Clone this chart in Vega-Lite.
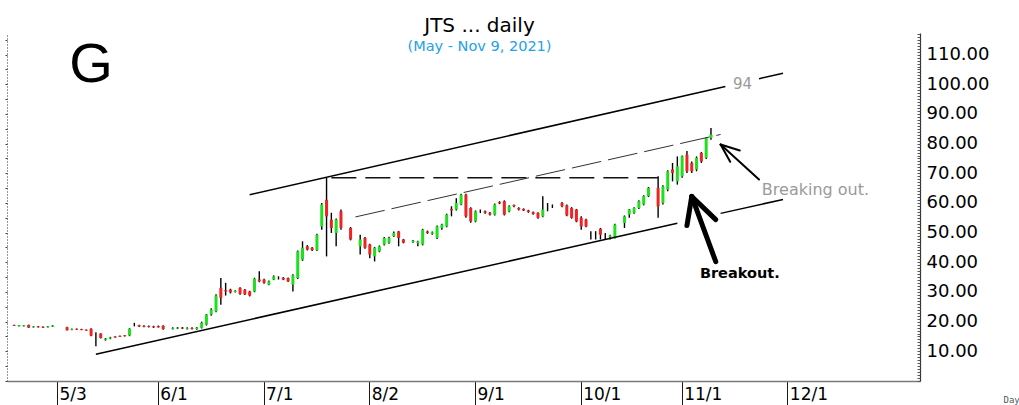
{
  "$schema": "https://vega.github.io/schema/vega-lite/v6.json",
  "width": 913,
  "height": 348,
  "autosize": "none",
  "padding": {"left": 7, "top": 33, "right": 99, "bottom": 24},
  "background": "white",
  "view": {"stroke": null},
  "title": {
    "text": "JTS ... daily",
    "subtitle": "(May - Nov 9, 2021)",
    "font": "DejaVu Sans",
    "fontSize": 20,
    "fontWeight": "normal",
    "color": "#000000",
    "subtitleFont": "DejaVu Sans",
    "subtitleFontSize": 14.5,
    "subtitleColor": "#22a2e8",
    "subtitlePadding": 4,
    "anchor": "middle",
    "dx": 16,
    "offset": -20
  },
  "datasets": {
    "candles": [
      {"date": "2021-04-20", "open": 18.9, "high": 19.0, "low": 18.5, "close": 18.6},
      {"date": "2021-04-21", "open": 18.5, "high": 18.9, "low": 18.4, "close": 18.8},
      {"date": "2021-04-22", "open": 18.5, "high": 18.9, "low": 18.4, "close": 18.8},
      {"date": "2021-04-23", "open": 18.9, "high": 19.0, "low": 17.9, "close": 18.0},
      {"date": "2021-04-26", "open": 18.1, "high": 18.5, "low": 18.0, "close": 18.4},
      {"date": "2021-04-27", "open": 18.4, "high": 18.5, "low": 18.0, "close": 18.1},
      {"date": "2021-04-28", "open": 18.3, "high": 18.4, "low": 17.9, "close": 18.0},
      {"date": "2021-04-29", "open": 18.1, "high": 18.5, "low": 18.0, "close": 18.4},
      {"date": "2021-04-30", "open": 18.3, "high": 18.8, "low": 18.2, "close": 18.7},
      {"date": "2021-05-05", "open": 18.1, "high": 18.3, "low": 17.0, "close": 17.1},
      {"date": "2021-05-06", "open": 17.2, "high": 17.7, "low": 17.1, "close": 17.5},
      {"date": "2021-05-07", "open": 17.6, "high": 17.7, "low": 17.2, "close": 17.3},
      {"date": "2021-05-10", "open": 17.5, "high": 17.6, "low": 17.1, "close": 17.2},
      {"date": "2021-05-11", "open": 17.3, "high": 17.4, "low": 16.9, "close": 17.0},
      {"date": "2021-05-12", "open": 17.6, "high": 17.8, "low": 15.1, "close": 15.3},
      {"date": "2021-05-13", "open": 15.9, "high": 16.4, "low": 11.7, "close": 15.9},
      {"date": "2021-05-14", "open": 16.0, "high": 16.1, "low": 14.3, "close": 14.5},
      {"date": "2021-05-17", "open": 13.9, "high": 14.5, "low": 13.6, "close": 14.3},
      {"date": "2021-05-18", "open": 14.3, "high": 14.9, "low": 14.1, "close": 14.7},
      {"date": "2021-05-19", "open": 15.0, "high": 15.1, "low": 14.6, "close": 14.7},
      {"date": "2021-05-20", "open": 15.2, "high": 15.3, "low": 14.8, "close": 14.9},
      {"date": "2021-05-21", "open": 15.4, "high": 15.5, "low": 15.0, "close": 15.1},
      {"date": "2021-05-24", "open": 15.3, "high": 17.8, "low": 15.1, "close": 17.6},
      {"date": "2021-05-25", "open": 18.8, "high": 19.6, "low": 18.4, "close": 18.8},
      {"date": "2021-05-26", "open": 18.8, "high": 19.0, "low": 18.2, "close": 18.4},
      {"date": "2021-05-27", "open": 18.6, "high": 18.8, "low": 18.1, "close": 18.3},
      {"date": "2021-05-28", "open": 18.5, "high": 18.7, "low": 18.0, "close": 18.2},
      {"date": "2021-05-31", "open": 18.4, "high": 18.6, "low": 17.9, "close": 18.1},
      {"date": "2021-06-01", "open": 18.5, "high": 18.7, "low": 18.0, "close": 18.1},
      {"date": "2021-06-02", "open": 18.6, "high": 18.8, "low": 17.3, "close": 17.5},
      {"date": "2021-06-04", "open": 17.6, "high": 18.1, "low": 17.4, "close": 17.9},
      {"date": "2021-06-07", "open": 17.7, "high": 18.2, "low": 17.5, "close": 18.0},
      {"date": "2021-06-08", "open": 18.0, "high": 18.2, "low": 17.5, "close": 17.7},
      {"date": "2021-06-09", "open": 17.6, "high": 18.1, "low": 17.4, "close": 17.9},
      {"date": "2021-06-10", "open": 17.9, "high": 18.1, "low": 17.4, "close": 17.6},
      {"date": "2021-06-11", "open": 17.5, "high": 18.2, "low": 17.3, "close": 18.0},
      {"date": "2021-06-14", "open": 17.9, "high": 20.0, "low": 17.7, "close": 19.6},
      {"date": "2021-06-15", "open": 19.0, "high": 22.6, "low": 18.7, "close": 22.4},
      {"date": "2021-06-16", "open": 22.4, "high": 24.5, "low": 22.0, "close": 24.1},
      {"date": "2021-06-17", "open": 23.5, "high": 29.2, "low": 23.2, "close": 28.8},
      {"date": "2021-06-18", "open": 31.4, "high": 34.7, "low": 25.7, "close": 28.0},
      {"date": "2021-06-21", "open": 30.6, "high": 33.1, "low": 28.8, "close": 30.2},
      {"date": "2021-06-22", "open": 30.8, "high": 31.1, "low": 29.5, "close": 29.9},
      {"date": "2021-06-23", "open": 30.0, "high": 30.6, "low": 29.8, "close": 30.4},
      {"date": "2021-06-24", "open": 31.4, "high": 31.6, "low": 29.1, "close": 29.4},
      {"date": "2021-06-25", "open": 30.8, "high": 31.0, "low": 29.0, "close": 29.2},
      {"date": "2021-06-28", "open": 30.2, "high": 30.4, "low": 28.5, "close": 28.8},
      {"date": "2021-06-29", "open": 30.2, "high": 34.8, "low": 29.9, "close": 34.5},
      {"date": "2021-06-30", "open": 34.2, "high": 37.0, "low": 33.3, "close": 33.6},
      {"date": "2021-07-01", "open": 34.2, "high": 34.5, "low": 32.8, "close": 33.1},
      {"date": "2021-07-02", "open": 32.5, "high": 33.9, "low": 32.3, "close": 33.6},
      {"date": "2021-07-05", "open": 34.2, "high": 35.6, "low": 34.0, "close": 35.3},
      {"date": "2021-07-06", "open": 34.7, "high": 35.3, "low": 34.2, "close": 34.7},
      {"date": "2021-07-07", "open": 34.8, "high": 35.0, "low": 34.0, "close": 34.2},
      {"date": "2021-07-08", "open": 34.7, "high": 34.9, "low": 33.4, "close": 33.6},
      {"date": "2021-07-09", "open": 32.5, "high": 36.0, "low": 30.2, "close": 35.6},
      {"date": "2021-07-12", "open": 34.7, "high": 44.0, "low": 34.4, "close": 43.7},
      {"date": "2021-07-13", "open": 40.9, "high": 47.1, "low": 40.5, "close": 44.9},
      {"date": "2021-07-14", "open": 45.4, "high": 45.8, "low": 44.0, "close": 44.3},
      {"date": "2021-07-15", "open": 44.9, "high": 45.2, "low": 43.8, "close": 44.1},
      {"date": "2021-07-16", "open": 44.1, "high": 49.6, "low": 43.8, "close": 49.3},
      {"date": "2021-07-19", "open": 52.1, "high": 60.0, "low": 51.0, "close": 59.5},
      {"date": "2021-07-20", "open": 61.1, "high": 68.5, "low": 42.0, "close": 55.5},
      {"date": "2021-07-21", "open": 54.4, "high": 56.7, "low": 49.9, "close": 51.6},
      {"date": "2021-07-22", "open": 49.9, "high": 54.8, "low": 45.4, "close": 54.4},
      {"date": "2021-07-23", "open": 57.2, "high": 57.8, "low": 51.0, "close": 51.6},
      {"date": "2021-07-27", "open": 51.6, "high": 51.9, "low": 47.4, "close": 47.7},
      {"date": "2021-07-29", "open": 45.4, "high": 49.3, "low": 42.6, "close": 47.7},
      {"date": "2021-07-30", "open": 48.2, "high": 48.5, "low": 44.6, "close": 44.9},
      {"date": "2021-08-02", "open": 46.0, "high": 46.3, "low": 41.4, "close": 42.6},
      {"date": "2021-08-03", "open": 42.0, "high": 45.2, "low": 40.3, "close": 44.9},
      {"date": "2021-08-04", "open": 43.7, "high": 45.7, "low": 43.4, "close": 45.4},
      {"date": "2021-08-05", "open": 46.0, "high": 48.5, "low": 45.7, "close": 48.2},
      {"date": "2021-08-06", "open": 46.6, "high": 48.6, "low": 46.3, "close": 48.2},
      {"date": "2021-08-09", "open": 48.8, "high": 50.4, "low": 48.5, "close": 49.9},
      {"date": "2021-08-10", "open": 50.4, "high": 50.6, "low": 45.4, "close": 48.2},
      {"date": "2021-08-11", "open": 47.7, "high": 47.9, "low": 46.4, "close": 46.6},
      {"date": "2021-08-13", "open": 46.8, "high": 47.5, "low": 46.6, "close": 47.3},
      {"date": "2021-08-16", "open": 46.4, "high": 47.3, "low": 45.4, "close": 47.0},
      {"date": "2021-08-17", "open": 46.0, "high": 51.3, "low": 45.7, "close": 51.0},
      {"date": "2021-08-18", "open": 50.4, "high": 50.7, "low": 49.6, "close": 49.9},
      {"date": "2021-08-19", "open": 49.6, "high": 50.4, "low": 49.3, "close": 50.1},
      {"date": "2021-08-20", "open": 48.2, "high": 52.4, "low": 47.9, "close": 52.1},
      {"date": "2021-08-23", "open": 51.6, "high": 53.0, "low": 51.0, "close": 52.7},
      {"date": "2021-08-24", "open": 52.1, "high": 56.4, "low": 51.8, "close": 56.1},
      {"date": "2021-08-25", "open": 58.0, "high": 58.9, "low": 55.5, "close": 57.5},
      {"date": "2021-08-26", "open": 57.8, "high": 61.6, "low": 57.5, "close": 60.0},
      {"date": "2021-08-27", "open": 59.5, "high": 63.1, "low": 59.2, "close": 62.8},
      {"date": "2021-08-30", "open": 62.8, "high": 63.1, "low": 55.0, "close": 55.5},
      {"date": "2021-08-31", "open": 58.3, "high": 58.6, "low": 53.3, "close": 53.8},
      {"date": "2021-09-01", "open": 53.8, "high": 57.5, "low": 53.5, "close": 57.2},
      {"date": "2021-09-02", "open": 57.2, "high": 57.8, "low": 56.6, "close": 57.2},
      {"date": "2021-09-03", "open": 57.2, "high": 57.5, "low": 56.4, "close": 56.7},
      {"date": "2021-09-06", "open": 56.7, "high": 57.0, "low": 55.8, "close": 56.1},
      {"date": "2021-09-07", "open": 56.1, "high": 59.8, "low": 55.8, "close": 59.5},
      {"date": "2021-09-08", "open": 60.3, "high": 60.6, "low": 59.6, "close": 59.9},
      {"date": "2021-09-09", "open": 60.6, "high": 60.9, "low": 55.8, "close": 56.1},
      {"date": "2021-09-10", "open": 57.2, "high": 59.2, "low": 56.9, "close": 58.9},
      {"date": "2021-09-13", "open": 59.3, "high": 59.5, "low": 58.6, "close": 58.9},
      {"date": "2021-09-14", "open": 58.3, "high": 58.6, "low": 57.5, "close": 57.8},
      {"date": "2021-09-15", "open": 58.0, "high": 58.2, "low": 57.3, "close": 57.5},
      {"date": "2021-09-16", "open": 57.5, "high": 57.7, "low": 56.7, "close": 57.0},
      {"date": "2021-09-17", "open": 56.9, "high": 57.1, "low": 56.0, "close": 56.3},
      {"date": "2021-09-20", "open": 56.7, "high": 56.9, "low": 54.7, "close": 55.0},
      {"date": "2021-09-21", "open": 55.5, "high": 62.3, "low": 55.2, "close": 57.8},
      {"date": "2021-09-22", "open": 58.9, "high": 60.0, "low": 57.2, "close": 58.9},
      {"date": "2021-09-23", "open": 58.9, "high": 59.5, "low": 58.3, "close": 58.9},
      {"date": "2021-09-27", "open": 60.0, "high": 60.3, "low": 58.6, "close": 58.9},
      {"date": "2021-09-28", "open": 59.2, "high": 59.5, "low": 55.5, "close": 55.8},
      {"date": "2021-09-29", "open": 58.3, "high": 58.6, "low": 54.7, "close": 55.0},
      {"date": "2021-09-30", "open": 57.8, "high": 58.0, "low": 53.5, "close": 53.8},
      {"date": "2021-10-01", "open": 55.0, "high": 55.5, "low": 51.0, "close": 52.1},
      {"date": "2021-10-04", "open": 54.4, "high": 54.7, "low": 51.8, "close": 52.1},
      {"date": "2021-10-05", "open": 49.9, "high": 50.5, "low": 47.7, "close": 49.9},
      {"date": "2021-10-06", "open": 49.9, "high": 50.5, "low": 47.7, "close": 49.9},
      {"date": "2021-10-07", "open": 51.3, "high": 51.6, "low": 47.7, "close": 49.3},
      {"date": "2021-10-08", "open": 49.3, "high": 49.9, "low": 47.7, "close": 49.3},
      {"date": "2021-10-11", "open": 48.5, "high": 49.3, "low": 47.7, "close": 49.0},
      {"date": "2021-10-12", "open": 48.2, "high": 53.0, "low": 48.0, "close": 52.7},
      {"date": "2021-10-14", "open": 53.3, "high": 55.8, "low": 51.6, "close": 55.5},
      {"date": "2021-10-15", "open": 56.1, "high": 58.0, "low": 55.0, "close": 57.8},
      {"date": "2021-10-18", "open": 56.7, "high": 58.6, "low": 56.4, "close": 58.3},
      {"date": "2021-10-19", "open": 58.3, "high": 60.9, "low": 58.0, "close": 60.6},
      {"date": "2021-10-20", "open": 59.5, "high": 62.6, "low": 59.2, "close": 62.3},
      {"date": "2021-10-21", "open": 62.3, "high": 65.4, "low": 62.0, "close": 65.1},
      {"date": "2021-10-25", "open": 65.1, "high": 69.0, "low": 55.0, "close": 58.9},
      {"date": "2021-10-26", "open": 60.0, "high": 66.0, "low": 59.5, "close": 65.6},
      {"date": "2021-10-27", "open": 64.5, "high": 71.0, "low": 64.0, "close": 70.7},
      {"date": "2021-10-28", "open": 71.3, "high": 73.5, "low": 67.3, "close": 70.1},
      {"date": "2021-10-29", "open": 67.3, "high": 75.7, "low": 66.2, "close": 72.4},
      {"date": "2021-11-01", "open": 69.0, "high": 76.0, "low": 68.5, "close": 75.7},
      {"date": "2021-11-02", "open": 76.3, "high": 77.5, "low": 70.1, "close": 70.7},
      {"date": "2021-11-03", "open": 73.5, "high": 74.0, "low": 70.1, "close": 70.7},
      {"date": "2021-11-04", "open": 71.3, "high": 75.7, "low": 70.7, "close": 75.2},
      {"date": "2021-11-05", "open": 76.9, "high": 77.2, "low": 73.5, "close": 74.0},
      {"date": "2021-11-08", "open": 75.2, "high": 82.2, "low": 74.8, "close": 81.9},
      {"date": "2021-11-09", "open": 81.9, "high": 85.3, "low": 81.3, "close": 83.0}
    ],
    "channel": [
      {"date": "2021-06-28", "v": 62.8, "date2": "2021-11-12", "v2": 99.3},
      {"date": "2021-11-23", "v": 101.9, "date2": "2021-11-30", "v2": 103.7},
      {"date": "2021-05-13", "v": 9.0, "date2": "2021-10-29", "v2": 53.2},
      {"date": "2021-11-11", "v": 56.5, "date2": "2021-11-30", "v2": 61.2}
    ],
    "resistance": [
      {"date": "2021-07-21", "v": 68.5, "date2": "2021-10-25", "v2": 68.5}
    ],
    "inner": [
      {"date": "2021-07-28", "v": 55.3, "date2": "2021-11-11", "v2": 83.1}
    ],
    "arrowBig": [
      {"date": "2021-11-03", "v": 62.2, "date2": "2021-11-10", "v2": 40.2},
      {"date": "2021-11-03", "v": 62.2, "date2": "2021-11-02", "v2": 52.4},
      {"date": "2021-11-03", "v": 62.2, "date2": "2021-11-10", "v2": 54.4}
    ],
    "arrowSmall": [
      {"date": "2021-11-11", "v": 79.7, "date2": "2021-11-23", "v2": 67.9},
      {"date": "2021-11-11", "v": 79.7, "date2": "2021-11-17", "v2": 77.7},
      {"date": "2021-11-11", "v": 79.7, "date2": "2021-11-15", "v2": 73.9}
    ],
    "labelG": [{"date": "2021-05-12", "v": 106.6, "text": "G"}],
    "label94": [{"date": "2021-11-18", "v": 100.2, "text": "94"}],
    "labelBreaking": [{"date": "2021-11-24", "v": 64.5, "text": "Breaking out."}],
    "labelBreakout": [{"date": "2021-11-17", "v": 35.9, "text": "Breakout."}]
  },
  "resolve": {"axis": {"x": "independent", "y": "independent"}},
  "layer": [
    {
      "data": {"name": "candles"},
      "mark": {"type": "rule", "color": "#000000", "strokeWidth": 1.4},
      "encoding": {
        "x": {
          "field": "date",
          "type": "ordinal",
          "scale": {
            "type": "band",
            "paddingInner": 0,
            "paddingOuter": 0,
            "domain": ["2021-04-19","2021-04-20","2021-04-21","2021-04-22","2021-04-23","2021-04-26","2021-04-27","2021-04-28","2021-04-29","2021-04-30",
              "2021-05-03","2021-05-04","2021-05-05","2021-05-06","2021-05-07","2021-05-10","2021-05-11","2021-05-12","2021-05-13","2021-05-14","2021-05-17","2021-05-18","2021-05-19","2021-05-20","2021-05-21","2021-05-24","2021-05-25","2021-05-26","2021-05-27","2021-05-28","2021-05-31",
              "2021-06-01","2021-06-02","2021-06-03","2021-06-04","2021-06-07","2021-06-08","2021-06-09","2021-06-10","2021-06-11","2021-06-14","2021-06-15","2021-06-16","2021-06-17","2021-06-18","2021-06-21","2021-06-22","2021-06-23","2021-06-24","2021-06-25","2021-06-28","2021-06-29","2021-06-30",
              "2021-07-01","2021-07-02","2021-07-05","2021-07-06","2021-07-07","2021-07-08","2021-07-09","2021-07-12","2021-07-13","2021-07-14","2021-07-15","2021-07-16","2021-07-19","2021-07-20","2021-07-21","2021-07-22","2021-07-23","2021-07-26","2021-07-27","2021-07-28","2021-07-29","2021-07-30",
              "2021-08-02","2021-08-03","2021-08-04","2021-08-05","2021-08-06","2021-08-09","2021-08-10","2021-08-11","2021-08-12","2021-08-13","2021-08-16","2021-08-17","2021-08-18","2021-08-19","2021-08-20","2021-08-23","2021-08-24","2021-08-25","2021-08-26","2021-08-27","2021-08-30","2021-08-31",
              "2021-09-01","2021-09-02","2021-09-03","2021-09-06","2021-09-07","2021-09-08","2021-09-09","2021-09-10","2021-09-13","2021-09-14","2021-09-15","2021-09-16","2021-09-17","2021-09-20","2021-09-21","2021-09-22","2021-09-23","2021-09-24","2021-09-27","2021-09-28","2021-09-29","2021-09-30",
              "2021-10-01","2021-10-04","2021-10-05","2021-10-06","2021-10-07","2021-10-08","2021-10-11","2021-10-12","2021-10-13","2021-10-14","2021-10-15","2021-10-18","2021-10-19","2021-10-20","2021-10-21","2021-10-22","2021-10-25","2021-10-26","2021-10-27","2021-10-28","2021-10-29",
              "2021-11-01","2021-11-02","2021-11-03","2021-11-04","2021-11-05","2021-11-08","2021-11-09","2021-11-10","2021-11-11","2021-11-12","2021-11-15","2021-11-16","2021-11-17","2021-11-18","2021-11-19","2021-11-22","2021-11-23","2021-11-24","2021-11-25","2021-11-26","2021-11-29","2021-11-30",
              "2021-12-01","2021-12-02","2021-12-03","2021-12-06","2021-12-07","2021-12-08","2021-12-09","2021-12-10","2021-12-13","2021-12-14","2021-12-15","2021-12-16","2021-12-17","2021-12-20","2021-12-21","2021-12-22","2021-12-23","2021-12-24","2021-12-27","2021-12-28","2021-12-29","2021-12-30","2021-12-31",
              "2022-01-03","2022-01-04","2022-01-05","2022-01-06","2022-01-07"]
          },
          "axis": {
            "orient": "bottom",
            "values": ["2021-05-03","2021-06-01","2021-07-01","2021-08-02","2021-09-01","2021-10-01","2021-11-01","2021-12-01"],
            "bandPosition": 0.5,
            "labels": false,
            "ticks": true,
            "tickSize": 24,
            "tickColor": "#1a1a1a",
            "tickWidth": 1,
            "domain": true,
            "domainColor": "#7a7a7a",
            "domainWidth": 1.5,
            "grid": false,
            "title": "Day",
            "titleFont": "DejaVu Sans Mono",
            "titleFontSize": 9,
            "titleFontWeight": "normal",
            "titleColor": "#555555",
            "titleX": 996,
            "titleY": 21,
            "titleAlign": "left",
            "titleBaseline": "alphabetic"
          }
        },
        "y": {
          "field": "low",
          "type": "quantitative",
          "scale": {"domain": [0, 117.3], "nice": false, "zero": false},
          "axis": {
            "orient": "left",
            "labels": false,
            "tickCount": 23,
            "tickSize": 2,
            "tickColor": "#444444",
            "domain": true,
            "domainColor": "#333333",
            "domainDash": [1, 2],
            "grid": false,
            "title": null
          }
        },
        "y2": {"field": "high"}
      }
    },
    {
      "data": {"name": "candles"},
      "mark": {"type": "bar", "size": 3},
      "encoding": {
        "x": {
          "field": "date",
          "type": "ordinal",
          "axis": {
            "orient": "bottom",
            "values": ["2021-05-03","2021-06-01","2021-07-01","2021-08-02","2021-09-01","2021-10-01","2021-11-01","2021-12-01"],
            "bandPosition": 0.5,
            "labelExpr": "toNumber(slice(datum.value,5,7)) + '/' + toNumber(slice(datum.value,8,10))",
            "ticks": false,
            "domain": false,
            "grid": false,
            "labelAlign": "left",
            "labelBaseline": "top",
            "labelOffset": 2,
            "labelPadding": 5,
            "labelFont": "DejaVu Sans",
            "labelFontSize": 17,
            "labelColor": "#000000",
            "labelOverlap": false,
            "labelFlush": false,
            "labelAngle": 0,
            "title": null
          }
        },
        "y": {
          "field": "open",
          "type": "quantitative",
          "axis": {
            "orient": "right",
            "values": [10, 20, 30, 40, 50, 60, 70, 80, 90, 100, 110],
            "format": ".2f",
            "ticks": false,
            "domain": true,
            "domainColor": "#333333",
            "domainWidth": 1.2,
            "grid": false,
            "labelFont": "DejaVu Sans",
            "labelFontSize": 18,
            "labelColor": "#000000",
            "labelPadding": 6,
            "labelAlign": "left",
            "title": null
          }
        },
        "y2": {"field": "close"},
        "color": {
          "condition": {"test": "datum.close > datum.open", "value": "#1fe01f"},
          "value": "#ee2424"
        }
      }
    },
    {
      "data": {"name": "channel"},
      "mark": {"type": "rule", "color": "#000000", "strokeWidth": 1.5},
      "encoding": {
        "x": {"field": "date", "type": "ordinal", "axis": null},
        "x2": {"field": "date2"},
        "y": {
          "field": "v",
          "type": "quantitative",
          "axis": {
            "orient": "right",
            "tickCount": 117,
            "labels": false,
            "domain": false,
            "ticks": true,
            "tickSize": -3,
            "tickColor": "#555555",
            "grid": false,
            "title": null
          }
        },
        "y2": {"field": "v2"}
      }
    },
    {
      "data": {"name": "resistance"},
      "mark": {"type": "rule", "color": "#111111", "strokeWidth": 1.5, "strokeDash": [25, 9]},
      "encoding": {
        "x": {"field": "date", "type": "ordinal", "axis": null},
        "x2": {"field": "date2"},
        "y": {"field": "v", "type": "quantitative", "axis": null},
        "y2": {"field": "v2"}
      }
    },
    {
      "data": {"name": "inner"},
      "mark": {"type": "rule", "color": "#333333", "strokeWidth": 1, "strokeDash": [30, 7]},
      "encoding": {
        "x": {"field": "date", "type": "ordinal", "axis": null},
        "x2": {"field": "date2"},
        "y": {"field": "v", "type": "quantitative", "axis": null},
        "y2": {"field": "v2"}
      }
    },
    {
      "data": {"name": "arrowBig"},
      "mark": {"type": "rule", "color": "#000000", "strokeWidth": 5, "strokeCap": "round"},
      "encoding": {
        "x": {"field": "date", "type": "ordinal", "axis": null},
        "x2": {"field": "date2"},
        "y": {"field": "v", "type": "quantitative", "axis": null},
        "y2": {"field": "v2"}
      }
    },
    {
      "data": {"name": "arrowSmall"},
      "mark": {"type": "rule", "color": "#000000", "strokeWidth": 2, "strokeCap": "round"},
      "encoding": {
        "x": {"field": "date", "type": "ordinal", "axis": null},
        "x2": {"field": "date2"},
        "y": {"field": "v", "type": "quantitative", "axis": null},
        "y2": {"field": "v2"}
      }
    },
    {
      "data": {"name": "labelG"},
      "mark": {"type": "text", "font": "Liberation Sans", "fontSize": 56, "color": "#000000", "align": "center", "baseline": "middle"},
      "encoding": {
        "x": {"field": "date", "type": "ordinal", "axis": null},
        "y": {"field": "v", "type": "quantitative", "axis": null},
        "text": {"field": "text"}
      }
    },
    {
      "data": {"name": "label94"},
      "mark": {"type": "text", "font": "DejaVu Sans", "fontSize": 15, "color": "#999999", "align": "center", "baseline": "middle", "dx": -2},
      "encoding": {
        "x": {"field": "date", "type": "ordinal", "axis": null},
        "y": {"field": "v", "type": "quantitative", "axis": null},
        "text": {"field": "text"}
      }
    },
    {
      "data": {"name": "labelBreaking"},
      "mark": {"type": "text", "font": "DejaVu Sans", "fontSize": 16, "color": "#9a9a9a", "align": "left", "baseline": "middle", "dx": -2},
      "encoding": {
        "x": {"field": "date", "type": "ordinal", "axis": null},
        "y": {"field": "v", "type": "quantitative", "axis": null},
        "text": {"field": "text"}
      }
    },
    {
      "data": {"name": "labelBreakout"},
      "mark": {"type": "text", "font": "DejaVu Sans", "fontSize": 14.5, "fontWeight": "bold", "color": "#000000", "align": "center", "baseline": "middle"},
      "encoding": {
        "x": {"field": "date", "type": "ordinal", "axis": null},
        "y": {"field": "v", "type": "quantitative", "axis": null},
        "text": {"field": "text"}
      }
    }
  ]
}
